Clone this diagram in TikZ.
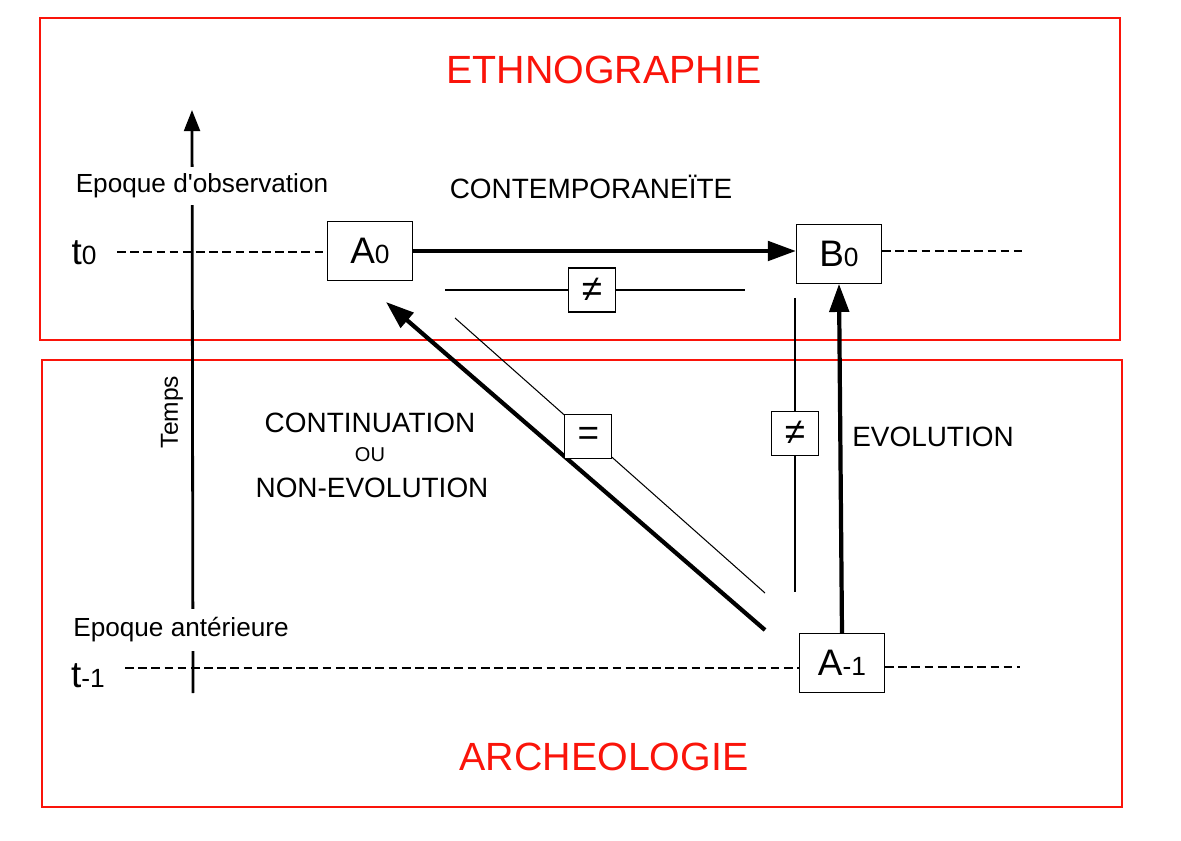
\documentclass[tikz,border=0pt]{standalone}
\usepackage{fontspec}
\setmainfont{Liberation Sans}
\usetikzlibrary{arrows.meta,positioning}
\definecolor{arred}{RGB}{250,20,10}
\newcommand{\grand}{\fontsize{21}{25}\selectfont}
\newcommand{\petit}{\fontsize{15}{18}\selectfont}

\begin{document}
\begin{tikzpicture}[x=0.02cm,y=-0.02cm,
      zone/.style={draw=arred,line width=1.1pt},
      ttl/.style={text=arred,font=\fontsize{22.4}{26}\selectfont},
      lbl/.style={font=\fontsize{15.9}{19}\selectfont},
      ep/.style={font=\fontsize{14.9}{18}\selectfont,fill=white},
      obj/.style={draw,line width=0.7pt,fill=white,inner sep=0pt,
        minimum width=1.7cm,minimum height=1.17cm},
      rel/.style={draw,line width=0.7pt,fill=white,inner sep=0pt,
        minimum width=0.94cm,minimum height=0.88cm,font=\fontsize{21}{24}\selectfont},
      a/.style={-{Triangle[length=16pt,width=11pt]},line width=2.4pt},
      dl/.style={dash pattern=on 5pt off 2.5pt,line width=1.5pt},
      tl/.style={line width=0.6pt}]
  \useasboundingbox (0,0) rectangle (1181,841);
  \draw[zone] (40,18) rectangle (1120,340);
  \draw[zone] (42,360) rectangle (1122,807);
  \node[ttl] (ethno) at (604,70) {ETHNOGRAPHIE};
  \node[ttl] (archeo) at (604,757) {ARCHEOLOGIE};

  \coordinate (tbas) at (193,693);
  \coordinate (thaut) at (192,110);
  \draw[line width=1.6pt,-{Triangle[length=12pt,width=9pt]}] (tbas) -- (thaut);
  \node[ep,inner sep=4pt] (obs) at (202,186) {Epoque d\textquotesingle observation};
  \node[ep,inner sep=5pt] (ant) at (181,630) {Epoque antérieure};
  \node[rotate=90,font=\fontsize{14}{16}\selectfont] (temps) at (172,412) {Temps};

  \node (t0) at (84,253) {\grand t\petit 0};
  \node (t1) at (88,676) {\grand t\petit -1};
  \node[obj] (a0) at (370,251) {\grand A\petit 0};
  \node[obj] (b0) at (839,254) {\grand B\petit 0};
  \node[obj] (am1) at (842,663) {\grand A\petit -1};

  \coordinate (t0g) at (117,252);
  \coordinate (t0d) at (1022,251);
  \coordinate (t1g) at (125,668);
  \coordinate (t1d) at (1020,667);
  \draw[dl] (t0g) -- (t0g -| a0.west);
  \draw[dl] (t0d -| b0.east) -- (t0d);
  \draw[dl] (t1g) -- (t1g -| am1.west);
  \draw[dl] (t1d -| am1.east) -- (t1d);

  \draw[a] (a0.east) -- (a0.east -| b0.west);
  \draw[a] (am1.north) -- (b0.south);
  \coordinate (dpied) at (765,630);
  \coordinate (dtete) at (386,302);
  \draw[a] (dpied) -- (dtete);

  \coordinate (h1) at (445,290);
  \coordinate (h2) at (745,290);
  \coordinate (g1) at (455,318);
  \coordinate (g2) at (765,593);
  \coordinate (v1) at (795,298);
  \coordinate (v2) at (795,592);
  \draw[tl] (h1) -- node[rel,pos=0.49] (neqh) {≠} (h2);
  \draw[tl] (g1) -- node[rel,pos=0.43] (egal) {=} (g2);
  \draw[tl] (v1) -- node[rel,pos=0.46] (neqv) {≠} (v2);

  \node[lbl] (contemp) at (591,187) {CONTEMPORANEÏTE};
  \node[lbl] (contin) at (370,423) {CONTINUATION};
  \node[font=\fontsize{11.4}{14}\selectfont] (ou) at (370,455) {OU};
  \node[lbl] (nonev) at (372,488) {NON-EVOLUTION};
  \node[lbl] (evol) at (933,437) {EVOLUTION};
\end{tikzpicture}
\end{document}
